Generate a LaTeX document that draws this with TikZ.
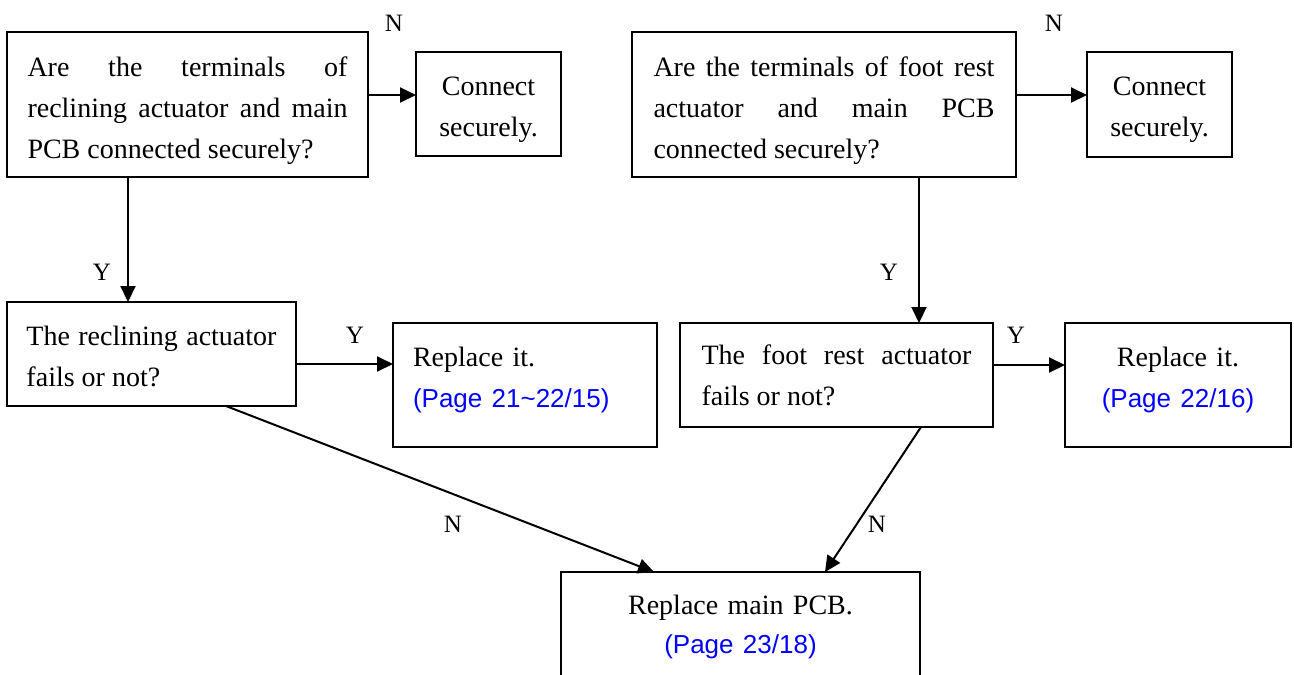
\documentclass[tikz,border=0pt]{standalone}
\usepackage{fontspec}
\setmainfont{Liberation Serif}
\setsansfont{Liberation Sans}
\usetikzlibrary{arrows.meta,calc}
\definecolor{pageblue}{RGB}{0,0,255}
\hyphenpenalty=10000
\exhyphenpenalty=10000
\newcommand{\pgref}[1]{{\sffamily\fontsize{26}{41}\selectfont\color{pageblue}#1}}
\begin{document}
\begin{tikzpicture}[x=1pt,y=-1pt,
  box/.style={draw, line width=2pt, rectangle, anchor=north west, outer sep=0pt,
    inner ysep=0pt, font=\fontsize{28}{41}\selectfont},
  arr/.style={line width=2pt, -{Triangle[length=16pt,width=15pt]}},
  lbl/.style={font=\fontsize{25}{30}\selectfont, anchor=base, inner sep=0pt}]
\clip (0,0) rectangle (1294,675);
\fill[white] (0,0) rectangle (1294,675);

% top row
\node[box, text width=320pt, inner xsep=20.5pt, minimum height=145pt, align=justify] (A) at (7,32)
  {Are the terminals of\linebreak reclining actuator and main\linebreak PCB connected securely?\\[-47pt]\mbox{}};
\node[box, text width=125pt, inner xsep=10pt, minimum height=104pt, align=center] (C1) at (416,52)
  {Connect\\securely.\\[-46pt]\mbox{}};
\node[box, text width=341pt, inner xsep=21.5pt, minimum height=145pt, align=justify] (B) at (632,32)
  {Are the terminals of foot rest\linebreak actuator and main PCB\linebreak connected securely?\\[-47pt]\mbox{}};
\node[box, text width=125pt, inner xsep=10pt, minimum height=105pt, align=center] (C2) at (1087,52)
  {Connect\\securely.\\[-46pt]\mbox{}};

% middle row
\node[box, text width=250pt, inner xsep=19.5pt, minimum height=104pt, align=justify] (C) at (7,302)
  {The reclining actuator\linebreak fails or not?\\[-45pt]\mbox{}};
\node[box, text width=224pt, inner xsep=20pt, minimum height=124pt, align=left] (R1) at (393,323)
  {Replace it.\\\pgref{(Page 21\textasciitilde22/15)}\\[-26pt]\mbox{}};
\node[box, text width=270pt, inner xsep=21.5pt, minimum height=104pt, align=justify] (D) at (680,323)
  {The foot rest actuator\linebreak fails or not?};
\node[box, text width=186pt, inner xsep=20pt, minimum height=124pt, align=center] (R2) at (1065,323)
  {Replace it.\\\pgref{(Page 22/16)}\\[-26pt]\mbox{}};

% bottom
\node[box, text width=319pt, inner xsep=20pt, minimum height=110pt, align=center,
  font=\fontsize{28}{39}\selectfont] (M) at (561,572)
  {Replace main PCB.\\\pgref{(Page 23/18)}};

% helper coordinates
\coordinate (h1) at (0,95);
\coordinate (h2) at (0,364);
\coordinate (h3) at (0,365);
\coordinate (v1) at (128,0);
\coordinate (v2) at (919,0);
\coordinate (d1) at (226,0);
\coordinate (d2) at (654,0);
\coordinate (d3) at (921,0);
\coordinate (d4) at (825,0);

% connectors
\draw[arr] (A.east |- h1) -- (C1.west |- h1);
\draw[arr] (B.east |- h1) -- (C2.west |- h1);
\draw[arr] (A.south -| v1) -- (C.north -| v1);
\draw[arr] (B.south -| v2) -- (D.north -| v2);
\draw[arr] (C.east |- h2) -- (R1.west |- h2);
\draw[arr] (D.east |- h3) -- (R2.west |- h3);
\draw[arr] (C.south -| d1) -- (M.north -| d2);
\draw[arr] (D.south -| d3) -- (M.north -| d4);

% labels
\node[lbl] (n1) at (394,31) {N};
\node[lbl] (n2) at (1054,31) {N};
\node[lbl] (y1) at (102,280) {Y};
\node[lbl] (y2) at (889,280) {Y};
\node[lbl] (y3) at (355,343) {Y};
\node[lbl] (y4) at (1016,343) {Y};
\node[lbl] (n3) at (453,532) {N};
\node[lbl] (n4) at (877,532) {N};
\end{tikzpicture}
\end{document}
